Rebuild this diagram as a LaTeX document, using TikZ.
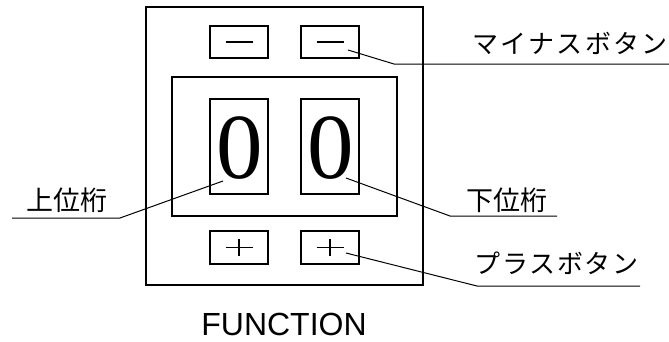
\documentclass[tikz,border=0pt]{standalone}
\usepackage{fontspec}
\setmainfont{Liberation Serif}
\newfontfamily\jp{Noto Sans CJK JP}
\newfontfamily\jpwide[LetterSpace=9]{Noto Sans CJK JP}
\newfontfamily\jpmid[LetterSpace=7]{Noto Sans CJK JP}
\newfontfamily\hel{Liberation Sans}
\begin{document}
\begin{tikzpicture}[x=1pt,y=-1pt,
  box/.style={draw,line width=1.6pt,inner sep=0pt,minimum width=58pt},
  frame/.style={draw,line width=1.8pt,inner sep=0pt},
  sign/.style={line width=1.3pt},
  leader/.style={line width=1pt},
  jlabel/.style={inner sep=0pt,anchor=base west},
  digit/.style={font=\fontsize{93}{93}\selectfont,inner sep=0pt}]
\useasboundingbox (0,0) rectangle (669,341);
% frames
\node[frame,minimum width=277pt,minimum height=278pt] (outer) at (284.5,146) {};
\node[frame,minimum width=225pt,minimum height=139pt] (inner) at (284.5,146.5) {};
% buttons and digit windows
\node[box,minimum height=32pt] (minusL) at (239,42) {};
\node[box,minimum height=32pt] (minusR) at (330,42) {};
\node[box,minimum height=95pt] (digL) at (239,146.5) {};
\node[box,minimum height=95pt] (digR) at (330,146.5) {};
\node[box,minimum height=33pt] (plusL) at (239,247.5) {};
\node[box,minimum height=33pt] (plusR) at (330,247.5) {};
% signs
\draw[sign] ([xshift=-13.5pt]minusL.center) -- ([xshift=13.5pt]minusL.center);
\draw[sign] ([xshift=-13.5pt]minusR.center) -- ([xshift=13.5pt]minusR.center);
\draw[sign] ([xshift=-13.5pt]plusL.center) -- ([xshift=13.5pt]plusL.center);
\draw[sign] ([yshift=-8.5pt]plusL.center) -- ([yshift=8.5pt]plusL.center);
\draw[sign] ([xshift=-13.5pt]plusR.center) -- ([xshift=13.5pt]plusR.center);
\draw[sign] ([yshift=-8.5pt]plusR.center) -- ([yshift=8.5pt]plusR.center);
% digits
\node[digit] (zeroL) at (240,148.5) {0};
\node[digit] (zeroR) at (331,148.5) {0};
% labels
\node[jlabel,font=\jpwide\fontsize{26}{26}\selectfont] (lminus) at (472,53) {マイナスボタン};
\node[jlabel,font=\jp\fontsize{27}{27}\selectfont] (lupper) at (26,210) {上位桁};
\node[jlabel,font=\jp\fontsize{27}{27}\selectfont] (llower) at (466,210) {下位桁};
\node[jlabel,font=\jpmid\fontsize{26}{26}\selectfont] (lplus) at (474,273) {プラスボタン};
\node[font=\hel\fontsize{32}{32}\selectfont,inner sep=0pt,anchor=base] (func) at (284,335) {FUNCTION};
% leader points
\coordinate (pm) at (348,50);
\coordinate (km) at (394,64);
\coordinate (em) at (669,64);
\coordinate (pu) at (223,181);
\coordinate (ku) at (120,218);
\coordinate (eu) at (12,218);
\coordinate (pl) at (346,178);
\coordinate (kl) at (450,216);
\coordinate (el) at (557,216);
\coordinate (pp) at (346,253);
\coordinate (kp) at (477,286);
\coordinate (ep) at (640,286);
\draw[leader] (pm) -- (km) -- (em);
\draw[leader] (pu) -- (ku) -- (eu);
\draw[leader] (pl) -- (kl) -- (el);
\draw[leader] (pp) -- (kp) -- (ep);
\end{tikzpicture}
\end{document}
